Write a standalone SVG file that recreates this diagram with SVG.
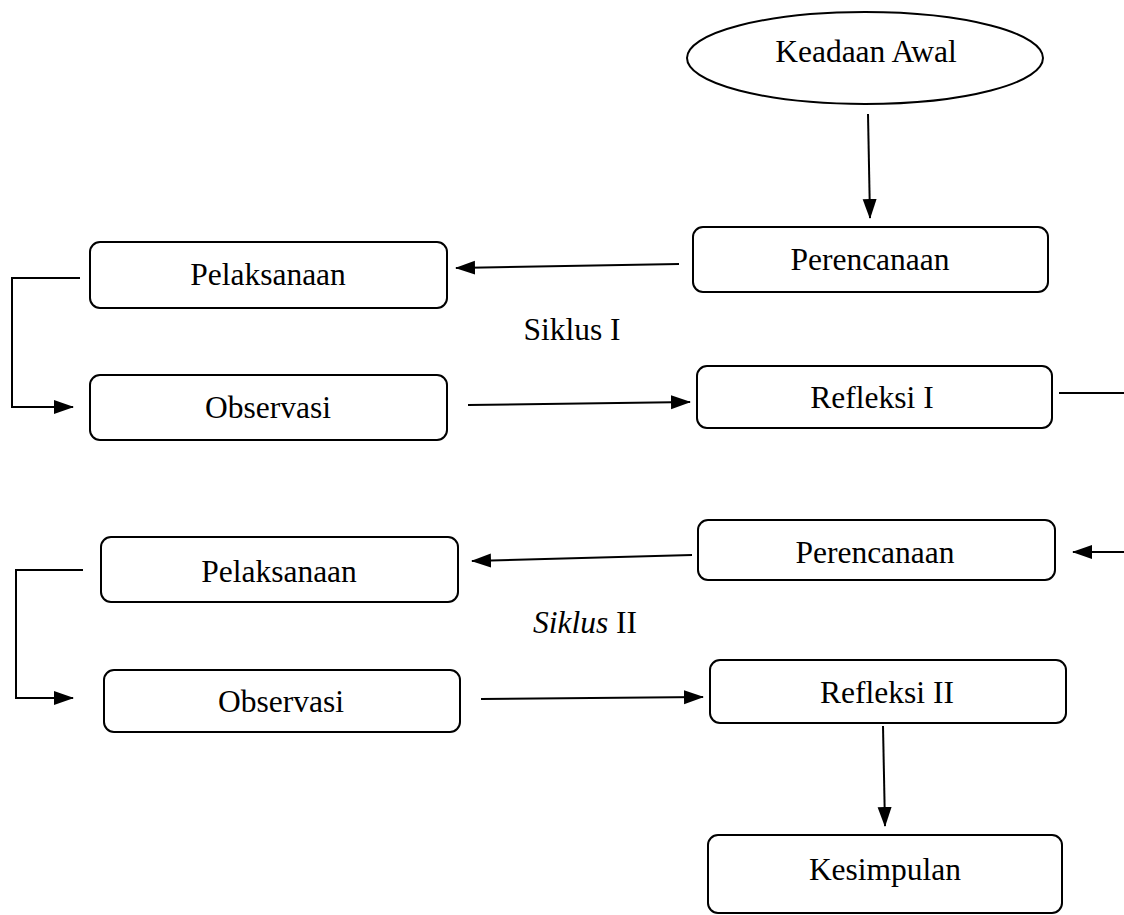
<svg xmlns="http://www.w3.org/2000/svg" width="1124" height="915" viewBox="0 0 1124 915">
  <style>
    .box { fill: #ffffff; stroke: #000000; stroke-width: 2; }
    .lbl { font-family: "Liberation Serif", "Times New Roman", serif; font-size: 31.5px; fill: #000000; text-anchor: middle; }
    .ln { fill: none; stroke: #000000; stroke-width: 2; }
    .arr { fill: none; stroke: #000000; stroke-width: 2; marker-end: url(#ah); }
  </style>
  <defs>
    <marker id="ah" markerUnits="userSpaceOnUse" markerWidth="22" markerHeight="16" refX="19" refY="8" orient="auto">
      <path d="M0,1 L20,8 L0,15 Z" fill="#000000"/>
    </marker>
  </defs>
  <rect width="1124" height="915" fill="#ffffff"/>

  <g id="connectors">
    <line class="arr" x1="868" y1="114" x2="870" y2="218"/>
    <line class="arr" x1="679" y1="264" x2="456" y2="268"/>
    <polyline class="arr" points="80,278 12,278 12,407 73,407"/>
    <line class="arr" x1="468" y1="405" x2="690" y2="402"/>
    <line class="ln" x1="1059" y1="393" x2="1124" y2="393"/>
    <line class="arr" x1="1124" y1="552" x2="1073" y2="552"/>
    <line class="arr" x1="692" y1="555" x2="472" y2="561"/>
    <polyline class="arr" points="83,570 16,570 16,698 73,698"/>
    <line class="arr" x1="481" y1="699" x2="703" y2="697"/>
    <line class="arr" x1="883" y1="726" x2="885" y2="826"/>
  </g>

  <g id="keadaan-awal">
    <ellipse class="box" cx="865" cy="58" rx="178" ry="46"/>
    <text class="lbl" x="866" y="62">Keadaan Awal</text>
  </g>
  <g id="perencanaan-1">
    <rect class="box" x="693" y="227" width="355" height="65" rx="10"/>
    <text class="lbl" x="870" y="270">Perencanaan</text>
  </g>
  <g id="pelaksanaan-1">
    <rect class="box" x="90" y="242" width="357" height="66" rx="10"/>
    <text class="lbl" x="268" y="285">Pelaksanaan</text>
  </g>
  <g id="siklus-1">
    <text class="lbl" x="572" y="340">Siklus I</text>
  </g>
  <g id="observasi-1">
    <rect class="box" x="90" y="375" width="357" height="65" rx="10"/>
    <text class="lbl" x="268" y="418">Observasi</text>
  </g>
  <g id="refleksi-1">
    <rect class="box" x="697" y="366" width="355" height="62" rx="10"/>
    <text class="lbl" x="872" y="408">Refleksi I</text>
  </g>
  <g id="perencanaan-2">
    <rect class="box" x="698" y="520" width="357" height="60" rx="10"/>
    <text class="lbl" x="875" y="563">Perencanaan</text>
  </g>
  <g id="pelaksanaan-2">
    <rect class="box" x="101" y="537" width="357" height="65" rx="10"/>
    <text class="lbl" x="279" y="582">Pelaksanaan</text>
  </g>
  <g id="siklus-2">
    <text class="lbl" x="585" y="633"><tspan font-style="italic">Siklus</tspan> II</text>
  </g>
  <g id="observasi-2">
    <rect class="box" x="104" y="670" width="356" height="62" rx="10"/>
    <text class="lbl" x="281" y="712">Observasi</text>
  </g>
  <g id="refleksi-2">
    <rect class="box" x="710" y="660" width="356" height="63" rx="10"/>
    <text class="lbl" x="887" y="703">Refleksi II</text>
  </g>
  <g id="kesimpulan">
    <rect class="box" x="708" y="835" width="354" height="78" rx="10"/>
    <text class="lbl" x="885" y="880">Kesimpulan</text>
  </g>
</svg>
